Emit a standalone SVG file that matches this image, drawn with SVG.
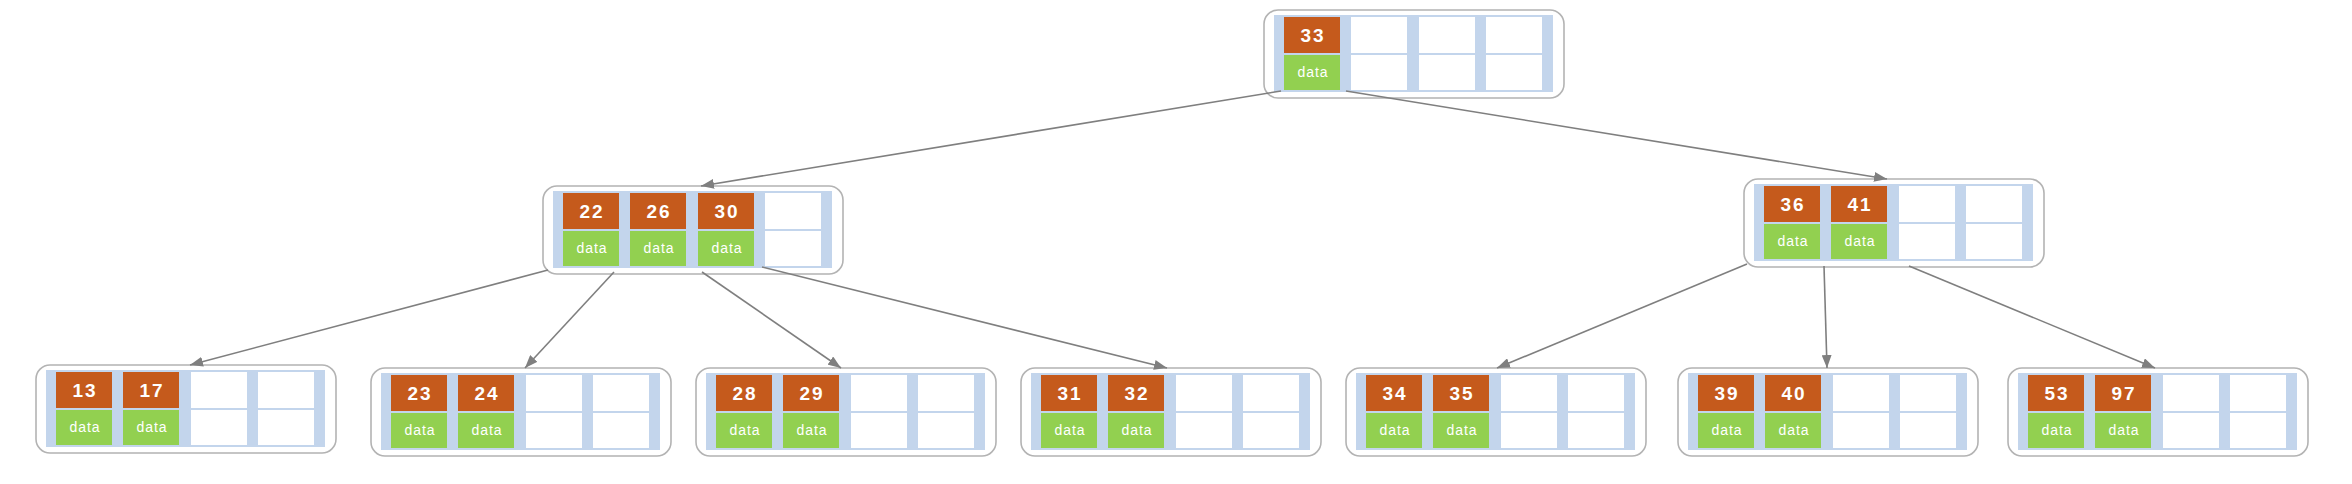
<svg xmlns="http://www.w3.org/2000/svg" xmlns:xlink="http://www.w3.org/1999/xlink" width="2352" height="484" viewBox="0 0 2352 484">
<style>
.outer{fill:#ffffff;stroke:#b3b3b3;stroke-width:1.6}
.bar{fill:#c3d5ec}
.cell{fill:#ffffff}
.k{fill:#c55a1c}
.d{fill:#92d050}
.kt{font-family:"Liberation Sans",Arial,sans-serif;font-size:19px;font-weight:bold;fill:#ffffff;text-anchor:middle;letter-spacing:2px}
.dt{font-family:"Liberation Sans",Arial,sans-serif;font-size:14px;fill:#ffffff;text-anchor:middle;letter-spacing:1px}
.edge{stroke:#7f7f7f;stroke-width:1.6;fill:none;marker-end:url(#arr)}
</style>
<defs>
<marker id="arr" markerUnits="userSpaceOnUse" markerWidth="14" markerHeight="10" refX="13" refY="5" orient="auto">
<path d="M0,0 L13,5 L0,10 Z" fill="#7f7f7f"/>
</marker>
<g id="frame">
<rect class="outer" x="1" y="1" width="300" height="88" rx="14" ry="14"/>
<rect class="bar" x="11" y="6" width="279" height="77"/>
<rect class="cell" x="21" y="8" width="56" height="36"/>
<rect class="cell" x="21" y="46" width="56" height="35"/>
<rect class="cell" x="88" y="8" width="56" height="36"/>
<rect class="cell" x="88" y="46" width="56" height="35"/>
<rect class="cell" x="156" y="8" width="56" height="36"/>
<rect class="cell" x="156" y="46" width="56" height="35"/>
<rect class="cell" x="223" y="8" width="56" height="36"/>
<rect class="cell" x="223" y="46" width="56" height="35"/>
</g>
</defs>

<g id="n33" transform="translate(1263,9)">
<use xlink:href="#frame"/>
<rect class="k" x="21" y="8" width="56" height="36"/><rect class="d" x="21" y="46" width="56" height="35"/>
<text class="kt" x="50" y="33">33</text><text class="dt" x="50" y="68">data</text>
</g>

<g id="n22" transform="translate(542,185)">
<use xlink:href="#frame"/>
<rect class="k" x="21" y="8" width="56" height="36"/><rect class="d" x="21" y="46" width="56" height="35"/>
<text class="kt" x="50" y="33">22</text><text class="dt" x="50" y="68">data</text>
<rect class="k" x="88" y="8" width="56" height="36"/><rect class="d" x="88" y="46" width="56" height="35"/>
<text class="kt" x="117" y="33">26</text><text class="dt" x="117" y="68">data</text>
<rect class="k" x="156" y="8" width="56" height="36"/><rect class="d" x="156" y="46" width="56" height="35"/>
<text class="kt" x="185" y="33">30</text><text class="dt" x="185" y="68">data</text>
</g>

<g id="n36" transform="translate(1743,178)">
<use xlink:href="#frame"/>
<rect class="k" x="21" y="8" width="56" height="36"/><rect class="d" x="21" y="46" width="56" height="35"/>
<text class="kt" x="50" y="33">36</text><text class="dt" x="50" y="68">data</text>
<rect class="k" x="88" y="8" width="56" height="36"/><rect class="d" x="88" y="46" width="56" height="35"/>
<text class="kt" x="117" y="33">41</text><text class="dt" x="117" y="68">data</text>
</g>

<g id="n13" transform="translate(35,364)">
<use xlink:href="#frame"/>
<rect class="k" x="21" y="8" width="56" height="36"/><rect class="d" x="21" y="46" width="56" height="35"/>
<text class="kt" x="50" y="33">13</text><text class="dt" x="50" y="68">data</text>
<rect class="k" x="88" y="8" width="56" height="36"/><rect class="d" x="88" y="46" width="56" height="35"/>
<text class="kt" x="117" y="33">17</text><text class="dt" x="117" y="68">data</text>
</g>

<g id="n23" transform="translate(370,367)">
<use xlink:href="#frame"/>
<rect class="k" x="21" y="8" width="56" height="36"/><rect class="d" x="21" y="46" width="56" height="35"/>
<text class="kt" x="50" y="33">23</text><text class="dt" x="50" y="68">data</text>
<rect class="k" x="88" y="8" width="56" height="36"/><rect class="d" x="88" y="46" width="56" height="35"/>
<text class="kt" x="117" y="33">24</text><text class="dt" x="117" y="68">data</text>
</g>

<g id="n28" transform="translate(695,367)">
<use xlink:href="#frame"/>
<rect class="k" x="21" y="8" width="56" height="36"/><rect class="d" x="21" y="46" width="56" height="35"/>
<text class="kt" x="50" y="33">28</text><text class="dt" x="50" y="68">data</text>
<rect class="k" x="88" y="8" width="56" height="36"/><rect class="d" x="88" y="46" width="56" height="35"/>
<text class="kt" x="117" y="33">29</text><text class="dt" x="117" y="68">data</text>
</g>

<g id="n31" transform="translate(1020,367)">
<use xlink:href="#frame"/>
<rect class="k" x="21" y="8" width="56" height="36"/><rect class="d" x="21" y="46" width="56" height="35"/>
<text class="kt" x="50" y="33">31</text><text class="dt" x="50" y="68">data</text>
<rect class="k" x="88" y="8" width="56" height="36"/><rect class="d" x="88" y="46" width="56" height="35"/>
<text class="kt" x="117" y="33">32</text><text class="dt" x="117" y="68">data</text>
</g>

<g id="n34" transform="translate(1345,367)">
<use xlink:href="#frame"/>
<rect class="k" x="21" y="8" width="56" height="36"/><rect class="d" x="21" y="46" width="56" height="35"/>
<text class="kt" x="50" y="33">34</text><text class="dt" x="50" y="68">data</text>
<rect class="k" x="88" y="8" width="56" height="36"/><rect class="d" x="88" y="46" width="56" height="35"/>
<text class="kt" x="117" y="33">35</text><text class="dt" x="117" y="68">data</text>
</g>

<g id="n39" transform="translate(1677,367)">
<use xlink:href="#frame"/>
<rect class="k" x="21" y="8" width="56" height="36"/><rect class="d" x="21" y="46" width="56" height="35"/>
<text class="kt" x="50" y="33">39</text><text class="dt" x="50" y="68">data</text>
<rect class="k" x="88" y="8" width="56" height="36"/><rect class="d" x="88" y="46" width="56" height="35"/>
<text class="kt" x="117" y="33">40</text><text class="dt" x="117" y="68">data</text>
</g>

<g id="n53" transform="translate(2007,367)">
<use xlink:href="#frame"/>
<rect class="k" x="21" y="8" width="56" height="36"/><rect class="d" x="21" y="46" width="56" height="35"/>
<text class="kt" x="50" y="33">53</text><text class="dt" x="50" y="68">data</text>
<rect class="k" x="88" y="8" width="56" height="36"/><rect class="d" x="88" y="46" width="56" height="35"/>
<text class="kt" x="117" y="33">97</text><text class="dt" x="117" y="68">data</text>
</g>

<g id="connectors">
<line class="edge" x1="1281" y1="91" x2="701" y2="186"/>
<line class="edge" x1="1346" y1="91" x2="1887" y2="179"/>
<line class="edge" x1="548" y1="270" x2="190" y2="365"/>
<line class="edge" x1="614" y1="272" x2="525" y2="368"/>
<line class="edge" x1="702" y1="272" x2="841" y2="368"/>
<line class="edge" x1="762" y1="267" x2="1167" y2="368"/>
<line class="edge" x1="1747" y1="264" x2="1497" y2="368"/>
<line class="edge" x1="1824" y1="266" x2="1827" y2="368"/>
<line class="edge" x1="1909" y1="266" x2="2155" y2="368"/>
</g>
</svg>
